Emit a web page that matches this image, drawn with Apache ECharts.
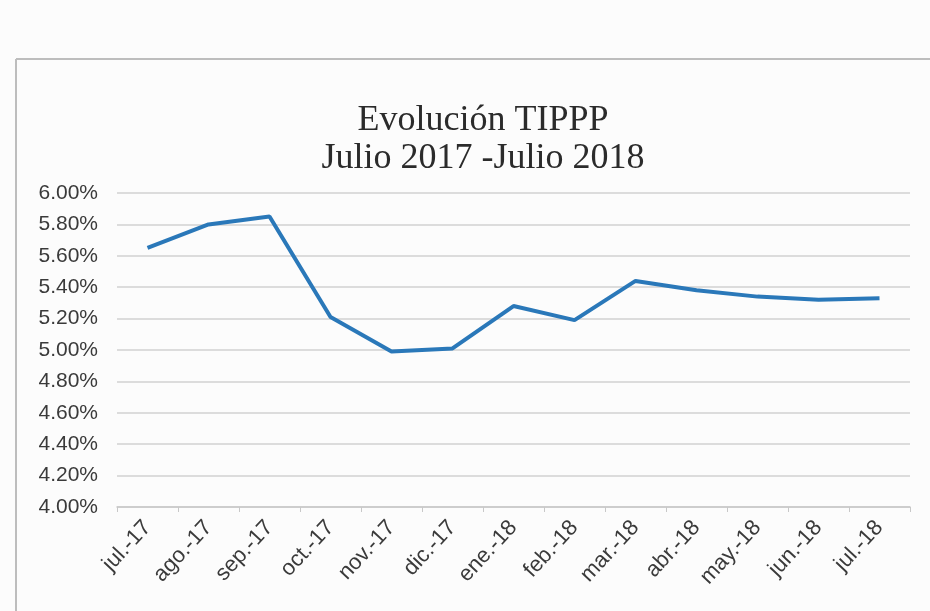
<!DOCTYPE html>
<html>
<head>
<meta charset="utf-8">
<script src="https://cdn.jsdelivr.net/npm/echarts@6/dist/echarts.min.js"></script>
<style>
html,body{margin:0;padding:0;background:#fcfcfc;}
#c{width:930px;height:611px;}
</style>
</head>
<body>
<div id="c"></div>
<script>
const categories = ['jul.-17','ago.-17','sep.-17','oct.-17','nov.-17','dic.-17','ene.-18','feb.-18','mar.-18','abr.-18','may.-18','jun.-18','jul.-18'];
const tippp = [5.65, 5.80, 5.85, 5.21, 4.99, 5.01, 5.28, 5.19, 5.44, 5.38, 5.34, 5.32, 5.33];
const yTicks = [4.00, 4.20, 4.40, 4.60, 4.80, 5.00, 5.20, 5.40, 5.60, 5.80, 6.00];
const titleText = 'Evolución TIPPP\nJulio 2017 -Julio 2018';

const chart = echarts.init(document.getElementById('c'), null, {renderer:'canvas'});
chart.setOption({
  backgroundColor: '#fcfcfc',
  animation: false,
  title: {
    text: titleText,
    left: 478,
    textAlign: 'center',
    top: 97,
    textStyle: {
      fontFamily: '"Liberation Serif","Times New Roman",serif',
      fontWeight: 'normal',
      fontSize: 36,
      lineHeight: 38,
      color: '#2b2b2b'
    }
  },
  graphic: [
    {type:'line', shape:{x1:16,y1:59,x2:930,y2:59}, style:{stroke:'#bdbdbd', lineWidth:2}},
    {type:'line', shape:{x1:16,y1:59,x2:16,y2:611}, style:{stroke:'#bdbdbd', lineWidth:2}}
  ],
  grid: {left:117, right:20, top:193, bottom:104},
  xAxis: {
    type: 'category',
    data: categories,
    boundaryGap: true,
    axisLine: {show:true, lineStyle:{color:'#c8c8c8', width:1.5}},
    axisTick: {show:true, length:5, inside:false, lineStyle:{color:'#c8c8c8'}},
    axisLabel: {
      rotate: 47,
      interval: 0,
      margin: 17,
      fontFamily: 'Arial, "Liberation Sans", sans-serif',
      fontSize: 22,
      color: '#3a3a3a'
    }
  },
  yAxis: {
    type: 'value',
    min: yTicks[0],
    max: yTicks[yTicks.length-1],
    interval: 0.2,
    axisLine: {show:false},
    axisTick: {show:false},
    splitLine: {lineStyle:{color:'#d2d2d2', width:1.5}},
    axisLabel: {
      margin: 19,
      fontFamily: 'Arial, "Liberation Sans", sans-serif',
      fontSize: 21,
      color: '#3a3a3a',
      formatter: v => v.toFixed(2) + '%'
    }
  },
  series: [{
    type: 'line',
    data: tippp,
    symbol: 'none',
    lineStyle: {color:'#2a78b9', width:4},
    itemStyle: {color:'#2a78b9'}
  }]
});
</script>
</body>
</html>
